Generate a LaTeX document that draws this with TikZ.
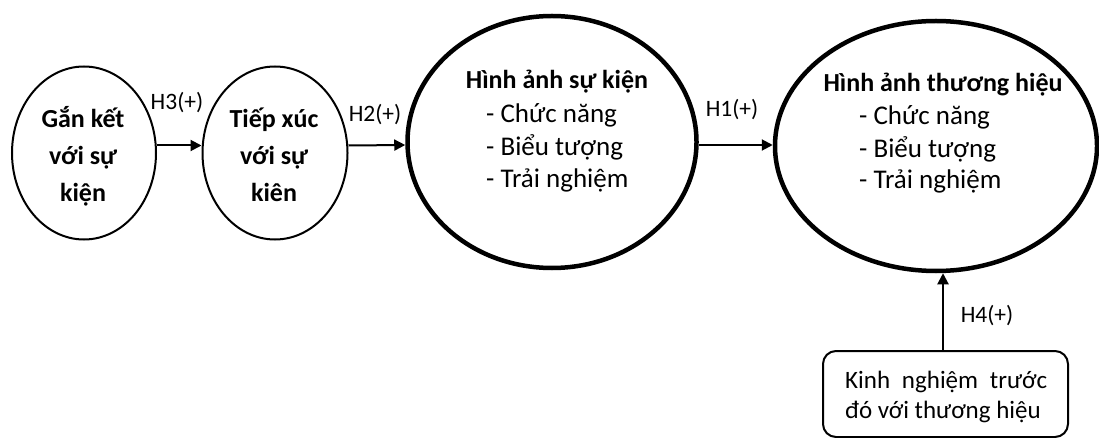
\documentclass[tikz,border=0pt]{standalone}
\usepackage{fontspec}
\setmainfont{Carlito}
\usetikzlibrary{shapes.geometric,arrows.meta}
\begin{document}
\begin{tikzpicture}[x=1pt,y=-1pt,
  thinell/.style={draw,ellipse,line width=2pt,inner sep=0pt},
  thickell/.style={draw,ellipse,line width=4.5pt,inner sep=0pt},
  conn/.style={line width=2pt,-{Triangle[length=11pt,width=11pt]}},
  bigtxt/.style={font=\fontsize{26}{30}\selectfont\bfseries,anchor=base,inner sep=0pt},
  itemtxt/.style={font=\fontsize{27}{32}\selectfont,anchor=base west,inner sep=0pt},
  lbl/.style={font=\fontsize{23.5}{28}\selectfont,anchor=base,inner sep=0pt},
  boxtxt/.style={font=\fontsize{25}{30}\selectfont,anchor=base west,inner sep=0pt}]
\useasboundingbox (0,0) rectangle (1099,438);
% ellipses
\node[thinell,minimum width=144pt,minimum height=173pt] (e1) at (84,153) {};
\node[thinell,minimum width=145pt,minimum height=173pt] (e2) at (275,153) {};
\node[thickell,minimum width=289pt,minimum height=252pt] (e3) at (552,142) {};
\node[thickell,minimum width=322pt,minimum height=250pt] (e4) at (936,146) {};
\node[draw,line width=2pt,rounded corners=13pt,minimum width=245pt,minimum height=86pt,inner sep=0pt] (box) at (945.5,394) {};
% ellipse 1 text
\node[bigtxt] (t1a) at (83,128) {Gắn kết};
\node[bigtxt] (t1b) at (83,165) {với sự};
\node[bigtxt] (t1c) at (83,202) {kiện};
% ellipse 2 text
\node[bigtxt] (t2a) at (274,128) {Tiếp xúc};
\node[bigtxt] (t2b) at (274,165) {với sự};
\node[bigtxt] (t2c) at (274,202) {kiên};
% ellipse 3 text
\node[bigtxt] (t3a) at (557,89) {Hình ảnh sự kiện};
\node[itemtxt] (t3b) at (486,123) {- Chức năng};
\node[itemtxt] (t3c) at (486,156) {- Biểu tượng};
\node[itemtxt] (t3d) at (486,188) {- Trải nghiệm};
% ellipse 4 text
\node[bigtxt] (t4a) at (943,92) {Hình ảnh thương hiệu};
\node[itemtxt] (t4b) at (859,125) {- Chức năng};
\node[itemtxt] (t4c) at (859,158) {- Biểu tượng};
\node[itemtxt] (t4d) at (859,189) {- Trải nghiệm};
% box text
\node[boxtxt] (b1) at (845,388) {\makebox[202pt][s]{Kinh nghiệm trước}};
\node[boxtxt] (b2) at (845,418) {đó với thương hiệu};
% connectors
\draw[conn] ([yshift=7.5pt]e1.east) -- ([yshift=7.5pt]e2.west);
\draw[conn] ([yshift=7.5pt]e2.east) -- ([yshift=-3pt]e3.west);
\draw[conn] ([yshift=-3pt]e3.east) -- ([yshift=1pt]e4.west);
\draw[conn] ([xshift=-2.5pt]box.north) -- ([xshift=-2.5pt]box.north |- e4.south);
% labels
\node[lbl] (h3) at (177,110) {H3(+)};
\node[lbl] (h2) at (375,122) {H2(+)};
\node[lbl] (h1) at (732,117) {H1(+)};
\node[lbl] (h4) at (987,322) {H4(+)};
\end{tikzpicture}
\end{document}
